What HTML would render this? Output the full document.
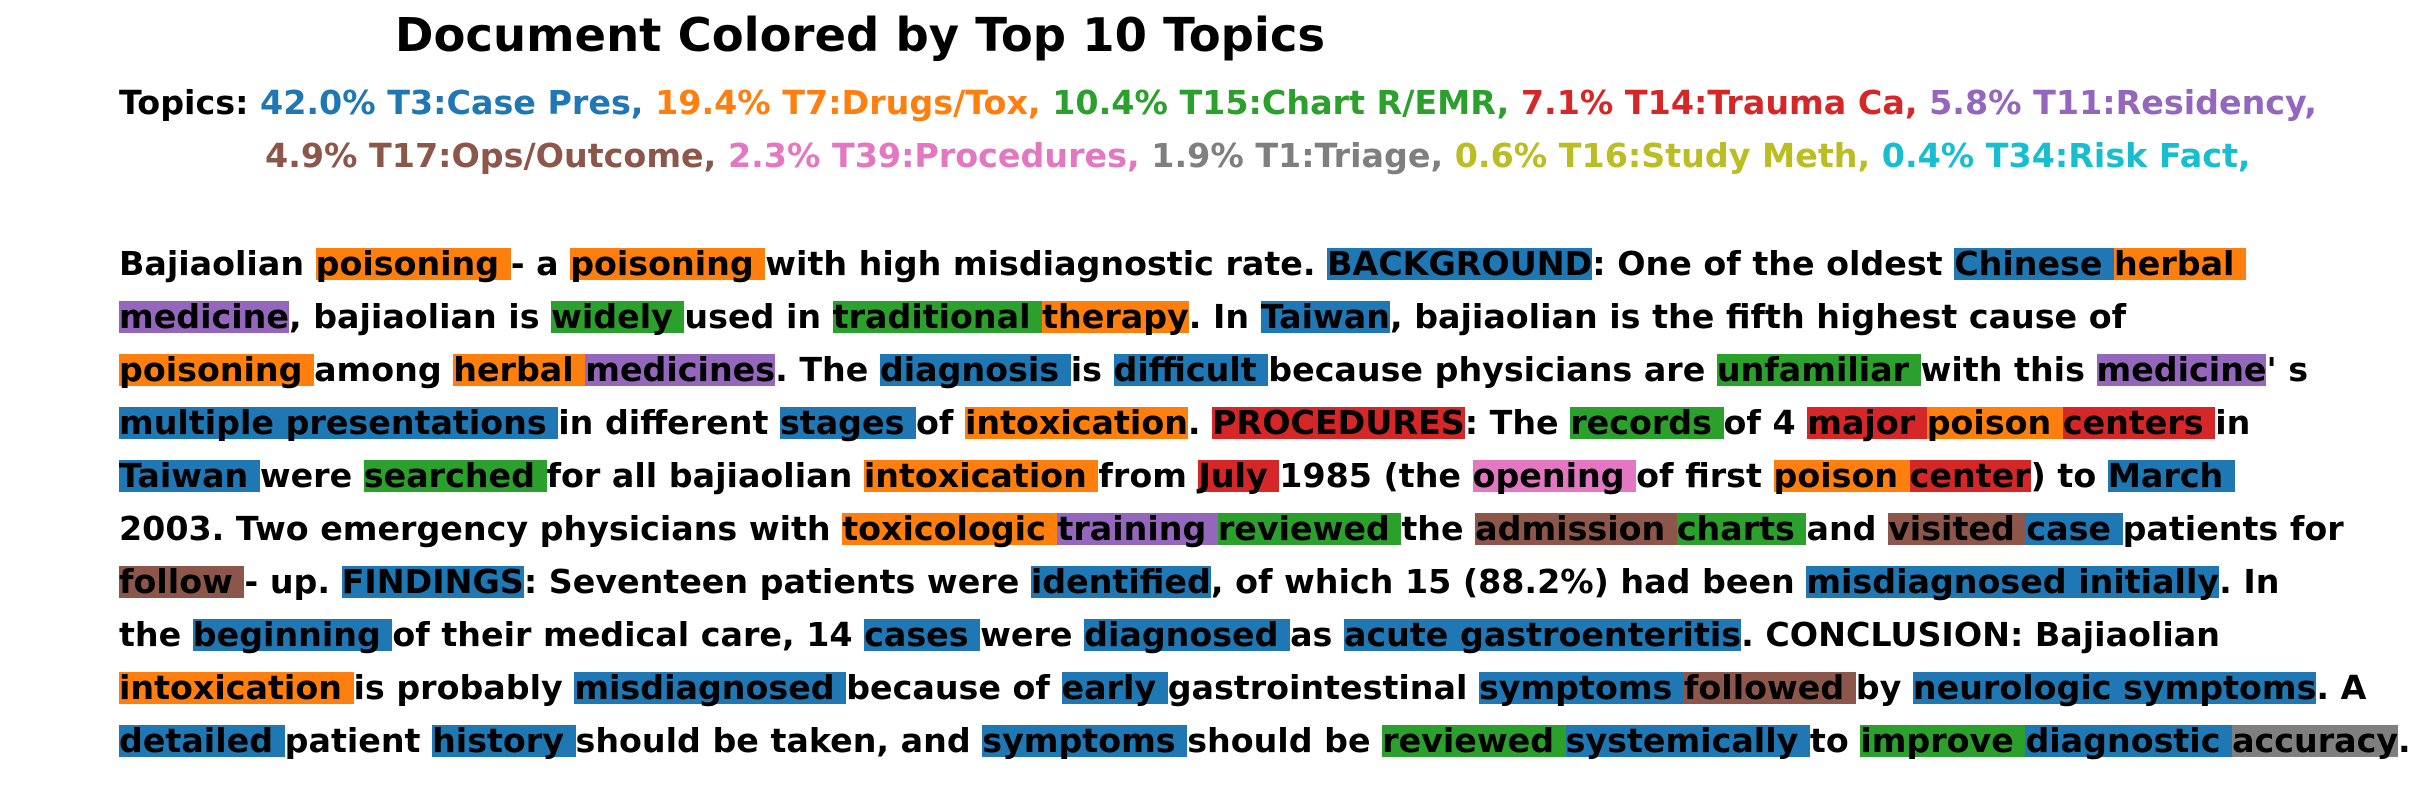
<!DOCTYPE html>
<html>
<head>
<meta charset="utf-8">
<style>
  html,body{margin:0;padding:0;background:#fff;}
  body{width:2429px;height:785px;position:relative;overflow:hidden;
       font-family:"DejaVu Sans","Liberation Sans",sans-serif;font-weight:bold;color:#000;}
  .title{position:absolute;left:0;width:1720px;text-align:center;top:7px;font-size:46.5px;line-height:56px;white-space:pre;}
  .row{position:absolute;font-size:33.3px;white-space:pre;line-height:40px;}
  .leg{font-size:33.35px;}
  .w{display:inline-block;height:32px;line-height:32px;vertical-align:baseline;}
  .B{background:#1f77b4}.O{background:#ff7f0e}.G{background:#2ca02c}.R{background:#d62728}
  .P{background:#9467bd}.Br{background:#8c564b}.Pk{background:#e377c2}.Gy{background:#7f7f7f}
  .cB{color:#1f77b4}.cO{color:#ff7f0e}.cG{color:#2ca02c}.cR{color:#d62728}.cP{color:#9467bd}
  .cBr{color:#8c564b}.cPk{color:#e377c2}.cGy{color:#7f7f7f}.cOl{color:#bcbd22}.cC{color:#17becf}
</style>
</head>
<body>
<div class="title">Document Colored by Top 10 Topics</div>

<div class="row leg" style="left:119px;top:83px">Topics: <span class="cB">42.0% T3:Case Pres,</span> <span class="cO">19.4% T7:Drugs/Tox,</span> <span class="cG">10.4% T15:Chart R/EMR,</span> <span class="cR">7.1% T14:Trauma Ca,</span> <span class="cP">5.8% T11:Residency,</span></div>
<div class="row leg" style="left:265px;top:136px"><span class="cBr">4.9% T17:Ops/Outcome,</span> <span class="cPk">2.3% T39:Procedures,</span> <span class="cGy">1.9% T1:Triage,</span> <span class="cOl">0.6% T16:Study Meth,</span> <span class="cC">0.4% T34:Risk Fact,</span></div>

<div>
<div class="row" style="left:119px;top:244px">Bajiaolian <span class="w O">poisoning </span>- a <span class="w O">poisoning </span>with high misdiagnostic rate. <span class="w B">BACKGROUND</span>: One of the oldest <span class="w B">Chinese </span><span class="w O">herbal </span></div>
<div class="row" style="left:119px;top:297px"><span class="w P">medicine</span>, bajiaolian is <span class="w G">widely </span>used in <span class="w G">traditional </span><span class="w O">therapy</span>. In <span class="w B">Taiwan</span>, bajiaolian is the fifth highest cause of</div>
<div class="row" style="left:119px;top:350px"><span class="w O">poisoning </span>among <span class="w O">herbal </span><span class="w P">medicines</span>. The <span class="w B">diagnosis </span>is <span class="w B">difficult </span>because physicians are <span class="w G">unfamiliar </span>with this <span class="w P">medicine</span>' s</div>
<div class="row" style="left:119px;top:403px"><span class="w B">multiple </span><span class="w B">presentations </span>in different <span class="w B">stages </span>of <span class="w O">intoxication</span>. <span class="w R">PROCEDURES</span>: The <span class="w G">records </span>of 4 <span class="w R">major </span><span class="w O">poison </span><span class="w R">centers </span>in</div>
<div class="row" style="left:119px;top:456px"><span class="w B">Taiwan </span>were <span class="w G">searched </span>for all bajiaolian <span class="w O">intoxication </span>from <span class="w R">July </span>1985 (the <span class="w Pk">opening </span>of first <span class="w O">poison </span><span class="w R">center</span>) to <span class="w B">March </span></div>
<div class="row" style="left:119px;top:509px">2003. Two emergency physicians with <span class="w O">toxicologic </span><span class="w P">training </span><span class="w G">reviewed </span>the <span class="w Br">admission </span><span class="w G">charts </span>and <span class="w Br">visited </span><span class="w B">case </span>patients for</div>
<div class="row" style="left:119px;top:562px"><span class="w Br">follow </span>- up. <span class="w B">FINDINGS</span>: Seventeen patients were <span class="w B">identified</span>, of which 15 (88.2%) had been <span class="w B">misdiagnosed </span><span class="w B">initially</span>. In</div>
<div class="row" style="left:119px;top:615px">the <span class="w B">beginning </span>of their medical care, 14 <span class="w B">cases </span>were <span class="w B">diagnosed </span>as <span class="w B">acute </span><span class="w B">gastroenteritis</span>. CONCLUSION: Bajiaolian</div>
<div class="row" style="left:119px;top:668px"><span class="w O">intoxication </span>is probably <span class="w B">misdiagnosed </span>because of <span class="w B">early </span>gastrointestinal <span class="w B">symptoms </span><span class="w Br">followed </span>by <span class="w B">neurologic </span><span class="w B">symptoms</span>. A</div>
<div class="row" style="left:119px;top:721px"><span class="w B">detailed </span>patient <span class="w B">history </span>should be taken, and <span class="w B">symptoms </span>should be <span class="w G">reviewed </span><span class="w B">systemically </span>to <span class="w G">improve </span><span class="w B">diagnostic </span><span class="w Gy">accuracy</span>.</div>
</div>
</body>
</html>
